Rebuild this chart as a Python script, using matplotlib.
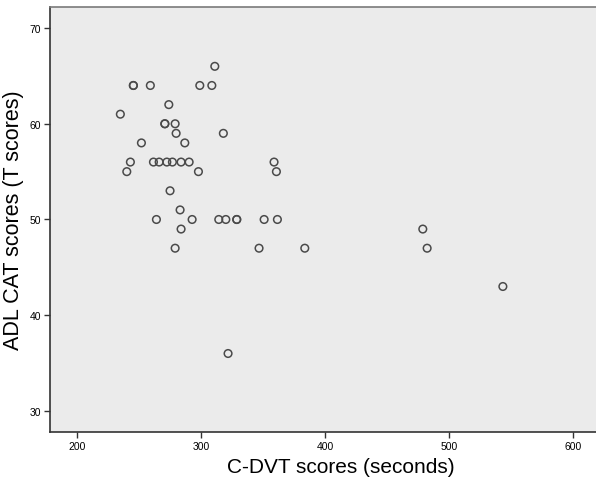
import numpy as np
import matplotlib.pyplot as plt

plt.rcParams['font.family'] = ['Liberation Sans', 'DejaVu Sans']

# C-DVT (seconds) vs ADL CAT (T scores)
cdvt = [234.9, 245.4, 245.4, 259.1, 240.1, 243.0, 251.9, 274.0, 270.8, 270.8,
        279.1, 279.9, 286.9, 261.6, 266.2, 272.4, 276.9, 283.9, 290.4, 297.9,
        275.0, 283.1, 283.9, 264.0, 292.8, 314.3, 320.0, 328.8, 328.8, 350.9,
        361.6, 299.0, 308.7, 311.1, 318.0, 358.9, 360.8, 279.1, 346.8, 383.7,
        482.4, 321.8, 478.9, 543.5]
adl = [61, 64, 64, 64, 55, 56, 58, 62, 60, 60,
       60, 59, 58, 56, 56, 56, 56, 56, 56, 55,
       53, 51, 49, 50, 50, 50, 50, 50, 50, 50,
       50, 64, 64, 66, 59, 56, 55, 47, 47, 47,
       47, 36, 49, 43]

xticks = [200, 300, 400, 500, 600]
yticks = [30, 40, 50, 60, 70]

fig = plt.figure(figsize=(5.96, 4.81), dpi=100)
# the original picture is cut on the right, so the axes run past the edge
ax = fig.add_axes([0.084, 0.0998, 0.975, 0.8836])
ax.set_facecolor('#ebebeb')
ax.scatter(cdvt, adl, s=30, facecolors='none', edgecolors='#4a4a4a', linewidths=1.1)

ax.set_xlim(178.2, 647)
ax.set_ylim(27.8, 72.2)
ax.set_xticks(xticks)
ax.set_yticks(yticks)
ax.tick_params(labelsize=7.5, length=4.5, width=1, color='#333333', pad=2)

for side in ['left', 'bottom']:
    ax.spines[side].set_color('#333333')
    ax.spines[side].set_linewidth(1.2)
ax.spines['top'].set_color('#7a7a7a')
ax.spines['top'].set_linewidth(1.2)
ax.spines['right'].set_visible(False)

ax.set_xlabel('C-DVT scores (seconds)', fontsize=15, labelpad=4)
ax.set_ylabel('ADL CAT scores (T scores)', fontsize=15.5, labelpad=4)

fig.savefig('out.png', dpi=100)
